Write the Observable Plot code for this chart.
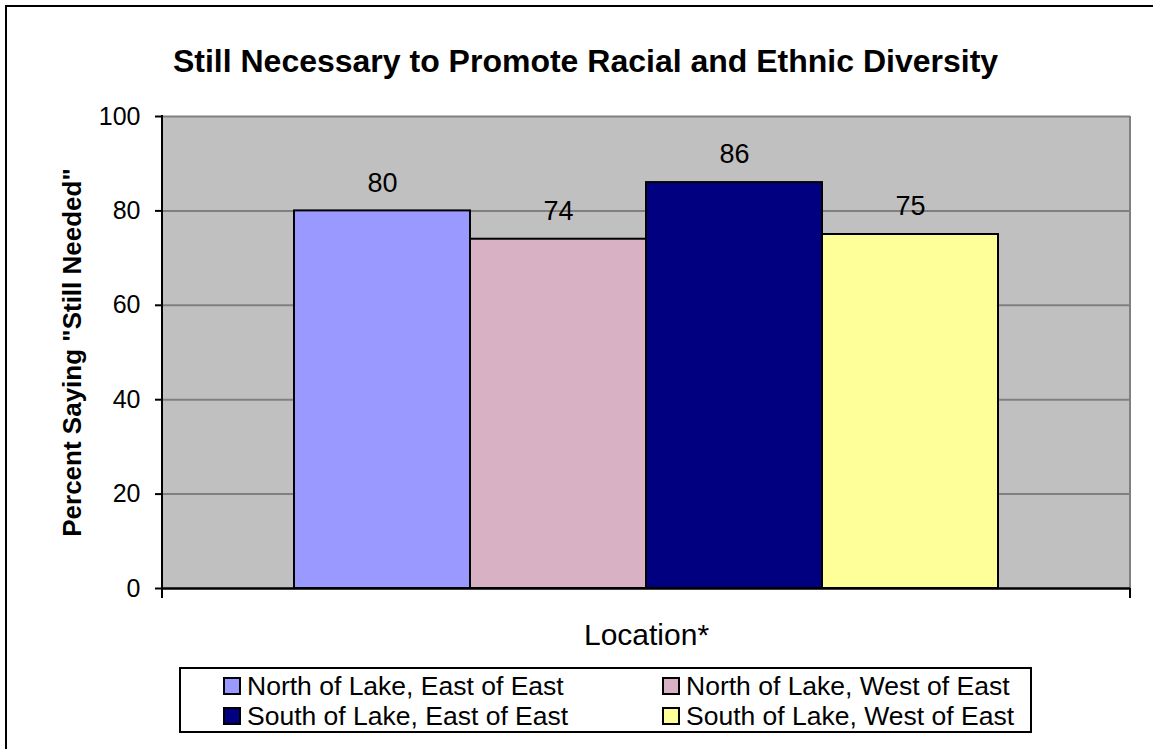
<!DOCTYPE html>
<html>
<head>
<meta charset="utf-8">
<script src="https://cdn.jsdelivr.net/npm/d3@7"></script>
<script src="https://cdn.jsdelivr.net/npm/@observablehq/plot@0.6"></script>
<style>
  html, body { margin: 0; padding: 0; background: #fff; overflow: hidden; }
  #wrap { position: relative; width: 1153px; height: 749px; overflow: hidden; font-family: "Liberation Sans", Arial, sans-serif; color: #000; }
  #border { position: absolute; left: 5px; top: 5px; width: 1300px; height: 900px; border-left: 2px solid #000; border-top: 2px solid #000; }
  #title { position: absolute; left: 0; width: 1171px; top: 41px; line-height: 40px; text-align: center; font-size: 32px; font-weight: bold; white-space: nowrap; }
  #chart { position: absolute; left: 0; top: 100px; }
  #legend { position: absolute; left: 179px; top: 667px; width: 853px; height: 66px; border: 2px solid #000; box-sizing: border-box; }
  .item { position: absolute; display: flex; align-items: center; height: 18px; font-size: 26.5px; white-space: nowrap; }
  .sw { width: 18px; height: 18px; border: 2px solid #000; box-sizing: border-box; margin-right: 6px; flex: none; }
</style>
</head>
<body>
<div id="wrap">
  <div id="border"></div>
  <div id="title"></div>
  <div id="chart"></div>
  <div id="legend"></div>
</div>
<script>
const title = "Still Necessary to Promote Racial and Ethnic Diversity";
const yLabel = 'Percent Saying "Still Needed"';
const xLabel = "Location*";
const series = [
  "North of Lake, East of East",
  "North of Lake, West of East",
  "South of Lake, East of East",
  "South of Lake, West of East"
];
const values = [80, 74, 86, 75];
const seriesColors = ["#9999FF", "#D8B2C4", "#000080", "#FFFF99"];
const yTicks = [0, 20, 40, 60, 80, 100];
const gridTicks = [20, 40, 60, 80, 100];
// legend order: row-major in two columns
const legendOrder = [0, 1, 2, 3];

const data = series.map((s, i) => ({series: s, value: values[i]}));

document.getElementById("title").textContent = title;

function edges(index, scales, values, dimensions) {
  const {width, height, marginLeft, marginRight, marginTop, marginBottom} = dimensions;
  const g = d3.create("svg:g");
  const x0 = marginLeft, x1 = width - marginRight, y0 = marginTop, y1 = height - marginBottom;
  // right border (gray)
  g.append("line").attr("x1", x1).attr("x2", x1).attr("y1", y0).attr("y2", y1)
    .attr("stroke", "#808080").attr("stroke-width", 2);
  // left axis line (black)
  g.append("line").attr("x1", x0).attr("x2", x0).attr("y1", y0 - 1).attr("y2", y1)
    .attr("stroke", "#000").attr("stroke-width", 2);
  // bottom end ticks
  for (const x of [x0, x1]) {
    g.append("line").attr("x1", x).attr("x2", x).attr("y1", y1).attr("y2", y1 + 10)
      .attr("stroke", "#000").attr("stroke-width", 2);
  }
  return g.node();
}

const chart = Plot.plot({
  width: 1153,
  height: 560,
  marginTop: 16,
  marginBottom: 72,
  marginLeft: 162,
  marginRight: 23,
  style: {fontFamily: '"Liberation Sans", Arial, sans-serif', background: "transparent", overflow: "visible", color: "#000"},
  x: {domain: series, paddingInner: 0, paddingOuter: 0.75, axis: null},
  y: {domain: [0, 100], axis: null},
  color: {domain: series, range: seriesColors},
  marks: [
    Plot.frame({fill: "#C0C0C0", stroke: null}),
    Plot.ruleY(gridTicks, {stroke: "#808080", strokeWidth: 2}),
    Plot.barY(data, {x: "series", y: "value", fill: "series", stroke: "#000", strokeWidth: 2, insetLeft: 0, insetRight: 0}),
    Plot.text(data, {x: "series", y: "value", text: d => String(d.value), dy: -28, fontSize: 27, fill: "#000"}),
    edges,
    Plot.ruleY([0], {stroke: "#000", strokeWidth: 2.5}),
    Plot.axisY({ticks: yTicks, tickSize: 7, tickPadding: 15, fontSize: 25, stroke: "#000", strokeWidth: 2, fill: "#000", label: null, tickFormat: d => String(d)}),
    Plot.text([yLabel], {frameAnchor: "left", dx: -90, rotate: -90, textAnchor: "middle", lineAnchor: "middle", fontSize: 26, fontWeight: "bold", fill: "#000"}),
    Plot.text([xLabel], {frameAnchor: "bottom", dy: 47, textAnchor: "middle", lineAnchor: "middle", fontSize: 30, fill: "#000"})
  ]
});
document.getElementById("chart").appendChild(chart);

// legend
const legend = document.getElementById("legend");
const colLeft = [42, 481];
const rowTop = [8, 38];
legendOrder.forEach((si, k) => {
  const item = document.createElement("div");
  item.className = "item";
  item.style.left = colLeft[k % 2] + "px";
  item.style.top = rowTop[Math.floor(k / 2)] + "px";
  const sw = document.createElement("div");
  sw.className = "sw";
  sw.style.background = seriesColors[si];
  const t = document.createElement("span");
  t.textContent = series[si];
  item.appendChild(sw);
  item.appendChild(t);
  legend.appendChild(item);
});
</script>
</body>
</html>
